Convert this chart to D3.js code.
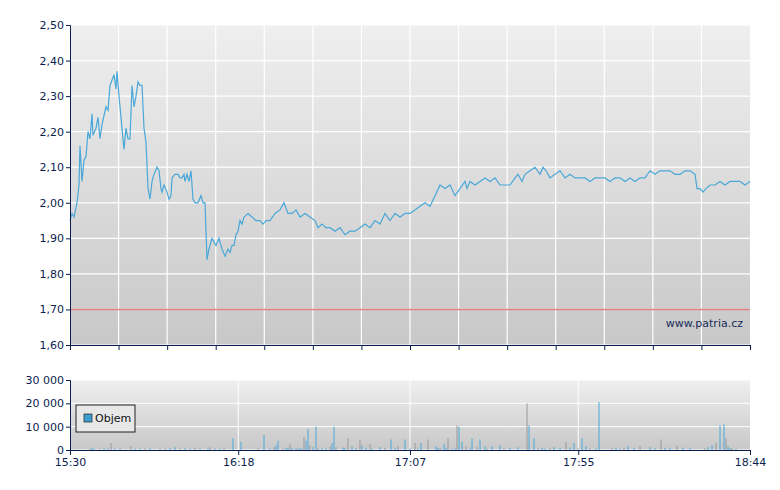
<!DOCTYPE html>
<html><head><meta charset="utf-8">
<script src="https://cdn.jsdelivr.net/npm/d3@7"></script>
<style>body{margin:0;background:#fff}text{font-family:Verdana,"DejaVu Sans",sans-serif}</style>
</head><body><svg id="c" width="780" height="490"></svg>
<script>
const priceX=[70,72,74,77,79,80,82,84,86,88,90,92,93,96,98,100,102,106,108,110,114,116,117,119,122,124,126,128,130,132,134,136,138,140,142,144,146,148,150,152,154,157,159,161,162,164,167,169,171,172,175,178,180,182,184,185,187,189,191,193,195,198,201,203,205,207,209,212,214,216,219,222,225,228,230,232,234,236,238,240,242,244,248,252,256,260,263,266,270,275,280,284,288,292,296,300,305,310,315,318,322,326,330,335,340,345,350,355,360,365,370,375,380,385,390,395,400,405,410,415,420,425,430,435,440,445,450,455,460,465,467,470,475,480,485,490,495,500,505,510,515,518,522,525,530,535,540,543,546,550,555,560,565,570,575,580,585,590,595,600,605,610,615,620,625,630,635,640,645,650,655,660,665,670,675,680,685,690,695,697,700,703,706,710,715,720,725,730,735,740,745,750];
const priceValues=[1.95,1.97,1.96,2.00,2.05,2.16,2.06,2.12,2.13,2.20,2.18,2.25,2.19,2.21,2.24,2.18,2.22,2.27,2.26,2.33,2.36,2.32,2.37,2.30,2.21,2.15,2.21,2.18,2.18,2.33,2.27,2.30,2.34,2.33,2.33,2.21,2.17,2.04,2.01,2.06,2.08,2.10,2.09,2.04,2.03,2.05,2.03,2.01,2.02,2.07,2.08,2.08,2.07,2.07,2.08,2.06,2.08,2.06,2.09,2.01,2.00,2.00,2.02,2.00,2.00,1.84,1.87,1.90,1.89,1.88,1.90,1.87,1.85,1.87,1.86,1.88,1.88,1.91,1.92,1.95,1.94,1.96,1.97,1.96,1.95,1.95,1.94,1.95,1.95,1.97,1.98,2.00,1.97,1.97,1.98,1.96,1.97,1.96,1.95,1.93,1.94,1.93,1.93,1.92,1.93,1.91,1.92,1.92,1.93,1.94,1.93,1.95,1.94,1.97,1.95,1.97,1.96,1.97,1.97,1.98,1.99,2.00,1.99,2.02,2.05,2.04,2.05,2.02,2.04,2.06,2.04,2.06,2.05,2.06,2.07,2.06,2.07,2.05,2.05,2.05,2.07,2.08,2.06,2.08,2.09,2.10,2.08,2.10,2.09,2.07,2.08,2.09,2.07,2.08,2.07,2.07,2.07,2.06,2.07,2.07,2.07,2.06,2.07,2.07,2.06,2.07,2.06,2.07,2.07,2.09,2.08,2.09,2.09,2.09,2.08,2.08,2.09,2.09,2.08,2.04,2.04,2.03,2.04,2.05,2.05,2.06,2.05,2.06,2.06,2.06,2.05,2.06];
const priceMinutes=priceX.map(x=>(x-70)/3.505);
const priceTicks=[1.6,1.7,1.8,1.9,2.0,2.1,2.2,2.3,2.4,2.5];
const referenceLevel=1.70;
const timeTickLabels=["15:30","16:18","17:07","17:55","18:44"];
const timeTickMinutes=[0,48,97,145,194];
const volX=[90,92,94,100,104,108,111,115,120,131,135,140,145,150,160,165,170,175,180,185,190,195,200,208,210,215,220,224,233,241,258,264,270,274,276,278,283,286,288,290,292,296,298,300,302,304,306,308,310,313,316,318,322,326,330,332,334,336,343,345,348,352,356,360,362,366,370,372,380,385,391,395,398,405,410,415,418,421,428,436,438,440,444,446,448,452,455,457,459,462,466,470,472,477,480,485,487,492,500,504,510,518,527,529,534,538,542,545,550,554,560,566,570,574,578,582,586,590,596,599,612,616,620,624,628,634,640,650,655,661,665,670,677,683,690,705,708,712,716,720,724,726,728,730,732,736,742,746];
const volValues=[500,800,600,500,700,600,3000,500,600,1500,500,500,600,700,500,500,800,1200,500,700,500,800,600,500,1200,600,500,700,5000,3500,500,6500,500,1200,2000,4000,500,800,1000,2500,800,700,500,900,600,5500,4000,9000,2000,1200,10000,600,600,700,1500,3000,10000,1200,1000,800,5000,1500,800,4500,2000,1000,2500,500,1200,800,4500,800,1500,4500,600,3000,500,3000,4500,1500,1000,800,2500,1000,5000,500,600,10500,10000,3500,1500,600,5000,1200,4500,1500,500,1500,2000,600,800,1200,20000,10500,5000,600,800,500,900,1200,800,3500,1000,3000,600,5000,1500,600,500,20500,700,800,500,1000,1500,800,1800,1200,600,4500,1000,800,1800,1000,800,700,1200,2000,3000,10500,11000,5000,1500,800,600,500];
const volMinutes=volX.map(x=>(x-70)/3.505);
const volTicks=[0,10000,20000,30000];

const svg=d3.select("#c");
const L=70,R=750;
const x=d3.scaleLinear().domain([0,194]).range([L,R]);
const y=d3.scaleLinear().domain([1.6,2.5]).range([345,25]);
const yv=d3.scaleLinear().domain([0,30000]).range([450,380]);
const defs=svg.append("defs");
const g1=defs.append("linearGradient").attr("id","bg").attr("x1",0).attr("x2",0).attr("y1",0).attr("y2",1);
g1.append("stop").attr("offset",0).attr("stop-color","#efefef");
g1.append("stop").attr("offset",1).attr("stop-color","#c8c8c8");
svg.append("rect").attr("x",L).attr("y",25).attr("width",R-L).attr("height",320).attr("fill","url(#bg)");
svg.append("rect").attr("x",L).attr("y",380).attr("width",R-L).attr("height",70).attr("fill","url(#bg)");
const nG=14;
for(let i=1;i<nG;i++){const gx=L+(R-L)*i/nG;
 svg.append("line").attr("x1",gx).attr("x2",gx).attr("y1",25).attr("y2",345).attr("stroke","#fff").attr("stroke-width",1.2);}
priceTicks.forEach(t=>{svg.append("line").attr("x1",L).attr("x2",R).attr("y1",y(t)).attr("y2",y(t)).attr("stroke","#fff").attr("stroke-width",1.2);});
svg.append("line").attr("x1",L).attr("x2",R).attr("y1",y(referenceLevel)).attr("y2",y(referenceLevel)).attr("stroke","#e08080").attr("stroke-width",1.5);
svg.append("path").datum(priceMinutes.map((m,i)=>[m,priceValues[i]])).attr("fill","none").attr("stroke","#4aa8d8").attr("stroke-width",1.2)
 .attr("d",d3.line().x(d=>x(d[0])).y(d=>y(d[1])));
svg.append("g").attr("class","yl").attr("transform",`translate(${L},0)`).call(d3.axisLeft(y).tickValues(priceTicks).tickSize(4).tickFormat(d=>d3.format(".2f")(d).replace(".",",")));
svg.append("g").attr("transform","translate(0,345)").call(d3.axisBottom(x).tickValues(d3.range(0,nG+1).map(i=>194*i/nG)).tickSize(5).tickFormat(""));
svg.append("text").attr("x",743).attr("y",327).attr("text-anchor","end").attr("font-size",11).attr("fill","#1a2a5a").text("www.patria.cz");
timeTickMinutes.slice(1,-1).forEach(t=>svg.append("line").attr("x1",x(t)).attr("x2",x(t)).attr("y1",380).attr("y2",450).attr("stroke","#fff"));
volTicks.forEach(t=>svg.append("line").attr("x1",L).attr("x2",R).attr("y1",yv(t)).attr("y2",yv(t)).attr("stroke","#fff"));
const n=Math.min(volMinutes.length,volValues.length);
svg.append("g").selectAll("line").data(d3.range(n).map(i=>[volMinutes[i],volValues[i]])).join("line")
 .attr("x1",d=>x(d[0])).attr("x2",d=>x(d[0])).attr("y1",450).attr("y2",d=>yv(d[1])).attr("stroke",(d,i)=>i%3==0?"#999":"#4aa8d8").attr("stroke-width",1);
svg.append("g").attr("class","yl").attr("transform",`translate(${L},0)`).call(d3.axisLeft(yv).tickValues(volTicks).tickSize(4).tickFormat(d=>d3.format(",")(d).replace(/,/g," ")));
svg.append("g").attr("transform","translate(0,450)").call(d3.axisBottom(x).tickValues(timeTickMinutes).tickSize(5).tickFormat((d,i)=>timeTickLabels[i]));
svg.selectAll(".domain, .tick line").attr("stroke","#0a1e50");
svg.selectAll(".tick text").attr("fill","#0a1e50").attr("font-size",11).style("font-family","Verdana,'DejaVu Sans',sans-serif");
svg.selectAll(".yl .tick text").attr("x",-6);
svg.append("rect").attr("x",76).attr("y",405).attr("width",59).attr("height",27).attr("fill","#e8e8e8").attr("stroke","#222");
svg.append("rect").attr("x",84).attr("y",414).attr("width",8).attr("height",8).attr("fill","#3a9fd0").attr("stroke","#222").attr("stroke-width",0.7);
svg.append("text").attr("x",95).attr("y",422).attr("font-size",11).attr("fill","#111").text("Objem");
</script></body></html>
